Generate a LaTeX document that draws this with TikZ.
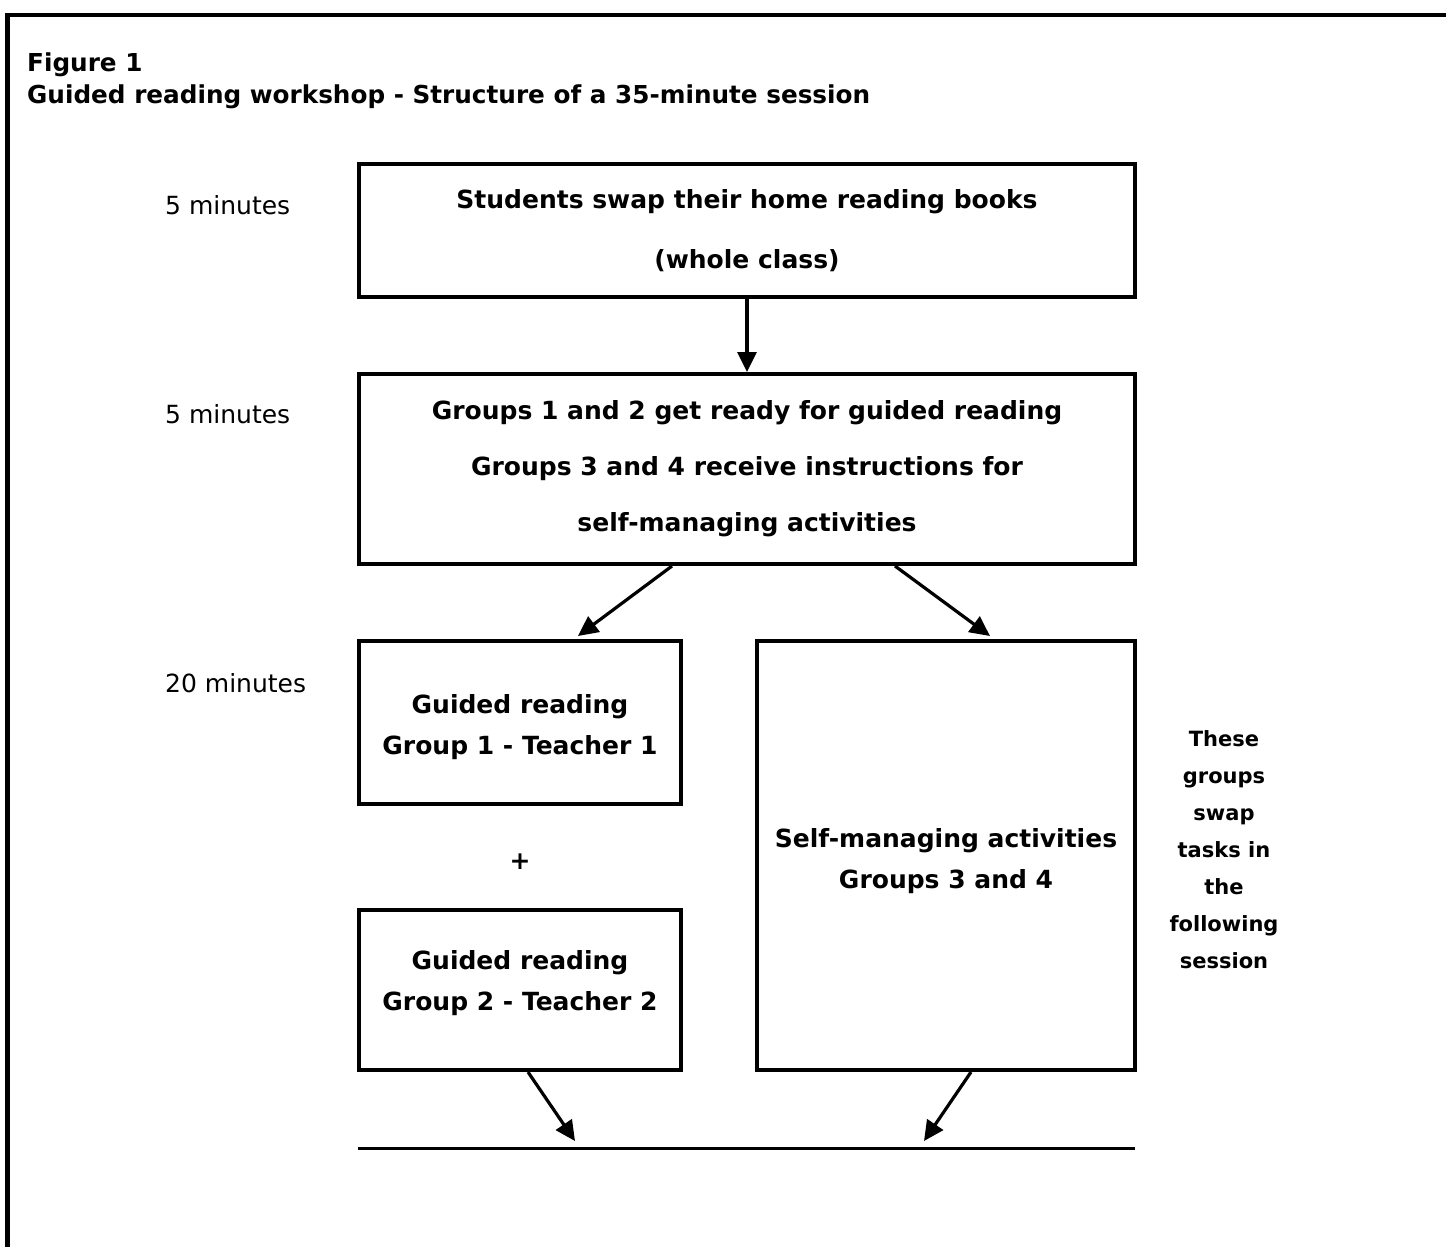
\documentclass[tikz,border=0pt]{standalone}
\usepackage{fontspec}
\setmainfont{DejaVu Sans}
\usetikzlibrary{arrows.meta}
\begin{document}
\begin{tikzpicture}[x=1pt,y=-1pt,
  box/.style={draw=black,line width=4pt,inner sep=0pt,align=center},
  conn/.style={line width=3.2pt,-{Triangle[length=20pt,width=19pt]}},
  bt/.style={font=\bfseries\fontsize{25}{#1}\selectfont},
  lbl/.style={font=\fontsize{25}{28}\selectfont,anchor=west,inner sep=0pt}]
\useasboundingbox (0,0) rectangle (1446,1247);
\fill[white] (0,0) rectangle (1446,1247);
% outer frame (cropped)
\draw[line width=4.5pt] (7.5,1260) -- (7.5,15) -- (1460,15);
% title
\node[anchor=base west,inner sep=0pt,font=\bfseries\fontsize{24.7}{28}\selectfont] (fig) at (27,71) {Figure 1};
\node[anchor=base west,inner sep=0pt,font=\bfseries\fontsize{24.7}{28}\selectfont] (title) at (27,103) {Guided reading workshop - Structure of a 35-minute session};
% boxes
\node[box,bt=60,minimum width=776,minimum height=133] (b1) at (747,230.5) {Students swap their home reading books\\(whole class)};
\node[box,bt=56,minimum width=776,minimum height=190] (b2) at (747,469) {Groups 1 and 2 get ready for guided reading\\Groups 3 and 4 receive instructions for\\self-managing activities};
\node[box,minimum width=322,minimum height=163] (b3) at (520,722.5) {};
\node[inner sep=0pt,align=center,bt=41] (b3t) at (520,727) {Guided reading\\Group 1 - Teacher 1};
\node[box,minimum width=322,minimum height=160] (b4) at (520,990) {};
\node[inner sep=0pt,align=center,bt=41] (b4t) at (520,983) {Guided reading\\Group 2 - Teacher 2};
\node[box,minimum width=378,minimum height=429] (b5) at (946,855.5) {};
\node[inner sep=0pt,align=center,bt=41] (b5t) at (946,861) {Self-managing activities\\Groups 3 and 4};
\node[inner sep=0pt,font=\bfseries\fontsize{25}{28}\selectfont] (plus) at (520,862) {+};
\node[inner sep=0pt,align=center,font=\bfseries\fontsize{21}{37}\selectfont] (side) at (1224,850) {These\\groups\\swap\\tasks in\\the\\following\\session};
% time labels
\node[lbl] (t1) at (165,205) {5 minutes};
\node[lbl] (t2) at (165,414) {5 minutes};
\node[lbl] (t3) at (165,683) {20 minutes};
% bottom line
\coordinate (endL) at (358,1148);
\coordinate (endR) at (1135,1148);
\draw[line width=3pt] (endL) -- (endR);
\coordinate (tipL) at (575,1141);
\coordinate (tipR) at (924,1141);
% connectors
\draw[conn] (b1.south) -- (b2.north);
\draw[conn] ([xshift=-75pt]b2.south) -- ([xshift=58pt,yshift=3pt]b3.north);
\draw[conn] ([xshift=148pt]b2.south) -- ([xshift=44pt,yshift=3pt]b5.north);
\draw[conn] ([xshift=8pt]b4.south) -- (tipL);
\draw[conn] ([xshift=25pt]b5.south) -- (tipR);
\end{tikzpicture}
\end{document}
